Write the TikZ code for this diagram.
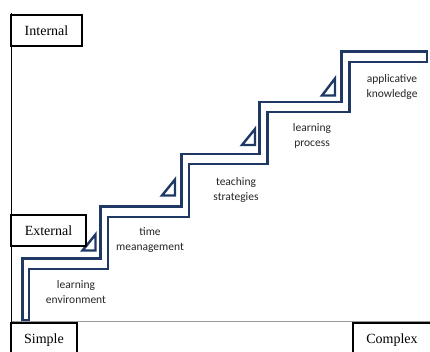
\documentclass[tikz,border=0pt]{standalone}
\usepackage{fontspec}
\setmainfont{Liberation Serif}
\newfontfamily\stepfont{Carlito}
\definecolor{stairblue}{RGB}{31,56,100}

\tikzset{
  axisbox/.style={draw, fill=white, line width=1.3pt, inner sep=0pt,
    font=\fontsize{14}{16}\selectfont},
  endbox/.style={axisbox, line width=1.7pt},
  steplabel/.style={align=center, inner sep=0pt, text=black!85,
    font=\stepfont\fontsize{11.5}{15}\selectfont},
  marker/.style={draw=stairblue, line width=2.4pt, line join=miter}
}

\begin{document}
\begin{tikzpicture}[x=1pt, y=-1pt]
        \clip (0, 0) rectangle (430, 351);
        \fill[white] (0, 0) rectangle (430, 351);

        % axes
        \draw[gray!80, line width=1pt] (11, 321.5) -- (430, 321.5);
        \draw[line width=0.9pt] (11, 13) -- (11, 352);

        % stairs
        \draw[stairblue, line width=2.2pt, line join=miter, fill=white]
            (22.5, 320) -- (22.5, 258.5) -- (100.5, 258.5) -- (100.5, 206.5)
            -- (181.5, 206.5) -- (181.5, 154) -- (259.5, 154) -- (259.5, 102)
            -- (341.5, 102) -- (341.5, 51.5) -- (427, 51.5) -- (427, 62)
            -- (349.5, 62) -- (349.5, 112) -- (267.5, 112) -- (267.5, 164)
            -- (189, 164) -- (189, 217) -- (108, 217) -- (108, 269)
            -- (29, 269) -- (29, 320) -- cycle;

        % small triangles before each riser
        \foreach \rx/\by/\ty in {95.5/250.5/234.5, 175/195.5/179.5,
                                 255/145/129, 335/95.5/78.5}
            \draw[marker] (\rx-13, \by) -- (\rx, \by) -- (\rx, \ty) -- cycle;

        % boxes on the axes
        \node[axisbox, minimum width=71pt, minimum height=31pt] (internal) at (46.5, 30.5) {Internal};
        \node[axisbox, minimum width=75pt, minimum height=31pt] (external) at (48.5, 230.5) {External};
        \node[endbox, minimum width=66pt, minimum height=34pt] (simple) at (44, 340) {Simple};
        \node[endbox, minimum width=78pt, minimum height=34pt] (complex) at (392, 340) {Complex};

        % step labels
        \node[steplabel] (env) at (76, 292) {learning\\environment};
        \node[steplabel] (time) at (150, 240) {time\\meanagement};
        \node[steplabel] (teach) at (236, 190) {teaching\\strategies};
        \node[steplabel] (proc) at (312, 136) {learning\\process};
        \node[steplabel] (appl) at (392, 87) {applicative\\knowledge};
    \end{tikzpicture}
\end{document}
